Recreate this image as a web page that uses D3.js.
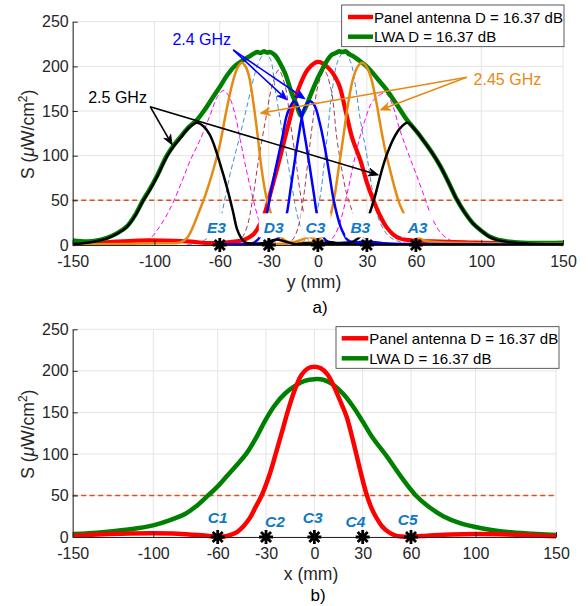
<!DOCTYPE html>
<html>
<head>
<meta charset="utf-8">
<script src="https://cdn.jsdelivr.net/npm/d3@7"></script>
<style>
body { margin: 0; background: #fff; }
svg { display: block; font-family: "Liberation Sans", Arial, sans-serif; }
</style>
</head>
<body>
<svg id="fig" width="588" height="606"></svg>
<script>
// ---- data (position mm, S in uW/cm^2) ----
const xTicks = [-150, -100, -60, -30, 0, 30, 60, 100, 150];
const yTicks = [0, 50, 100, 150, 200, 250];
const limitLine = 50;
const legendNames = ['Panel antenna D = 16.37 dB', 'LWA D = 16.37 dB'];
const markerX = [-60, -30, 0, 30, 60];
const labelsTop = ['E3', 'D3', 'C3', 'B3', 'A3'];
const labelTopX = [-62, -27, -1.5, 26, 61];
const labelsBot = ['C1', 'C2', 'C3', 'C4', 'C5'];
const labelBotX = [-60, -24.5, -1, 25.5, 58];
const labelBotY = [17, 12, 17, 12, 14.5];

// top panel (a): scan along y
const panelTop = [[-150,1],[-130,3],[-110,5],[-95,5],[-80,4],[-65,2],[-55,3],[-45,6],[-40,11],[-37.3,17],[-33,33],[-30.2,50],[-26.5,75],[-23,99],[-18,135],[-12,174],[-6,197],[0,205],[6,199],[12.6,181],[17,150],[21,120],[26,95],[30,70],[34,50],[38,33],[42,20],[46,12],[50,7.5],[58,5],[70,4],[90,3],[110,2],[130,2],[150,1]];
const lwaTop = [[-150,5],[-141,3.8],[-135,5],[-129,8],[-123,13],[-117,20.5],[-112,33],[-107,50],[-103,62],[-98.5,77],[-92.4,100],[-88,112],[-84,121],[-79,132],[-74,140],[-69,152],[-64,166],[-60,177],[-55.5,190],[-51.6,199],[-46.5,206],[-42,211],[-39.4,214],[-37,216],[-35,215],[-33,217],[-31,215.5],[-29,216],[-26,212],[-23,203],[-20,192],[-16,170],[-13,157],[-10.5,145],[-8,152],[-4,170],[0,187],[2.5,196],[5.5,206],[8.5,213],[11,215],[13,217],[15,216],[17,217],[19,214],[22,211],[25,207],[28,203],[32,196],[37,185],[42,174],[48,158],[54.5,140],[60,128],[65,116],[70,103],[75,88],[80,70],[85,51],[90,36],[95,24],[100,16],[105,9.5],[110,6],[116,4],[125,2.5],[135,2.2],[150,2.6]];
const f25L = [[-150,1],[-141,2.5],[-135,4.5],[-129,7.5],[-123,12.5],[-117,20],[-112,32],[-107,49],[-103,61],[-98.5,76],[-92.4,99],[-88,111],[-84,120],[-79,131],[-74,137],[-70,133],[-66,123],[-63.9,114],[-60,92],[-55.7,65],[-52,38],[-49.5,18],[-47,8],[-44.5,3],[-40,1.5],[-33,2],[-26,6],[-20,4],[-14,1],[-8,2],[-2,1.5],[5,1],[15,0.5],[30,0.3],[150,0.3]];
const f25R = [[-10,0.5],[0,1],[8,3],[15,1.5],[22,4],[27,12],[30,25],[32,37],[35,55],[38,76],[41,95],[43.2,106],[46,118],[50,130],[54.8,137],[60,128],[65,116],[70,103],[75,88],[80,70],[85,51],[90,36],[95,24],[100,16],[105,9],[110,5.5],[116,3.5],[125,2],[135,1],[150,0.8]];
const f245L = [[-150,0.5],[-120,1],[-100,2],[-90,2],[-84,3],[-80,8],[-76,22],[-73,36],[-70,50],[-67,66],[-64,84],[-60,112],[-56,150],[-52,183],[-49,199],[-46.5,204],[-44,199],[-42,188],[-39.5,160],[-37,125],[-34.5,86],[-32,58],[-29.5,40],[-27,25],[-24,12],[-20,5],[-15,3],[-10,6],[-5,9],[0,5],[10,2],[150,1]];
const f245R = [[-30,1],[-15,2],[-5,3],[0,5],[3,12],[6,24],[8,35],[10.5,58],[12.6,84],[15.5,120],[18.5,158],[21.5,186],[24.5,200],[27,204],[30,199],[33,184],[36,158],[38.1,136],[41,108],[44.2,84],[47,64],[50,46],[52.4,36],[55,24],[59,12],[65,5],[75,3],[100,2],[150,1]];
const f24L = [[-60,1],[-40,2],[-35,10],[-31.2,35],[-28.5,62],[-26,84],[-22,118],[-18.5,148],[-14.5,161],[-11,150],[-8,122],[-5,88],[-2.5,58],[-0.6,35],[2,15],[5,5],[10,2],[20,3],[30,1],[60,0.5]];
const f24R = [[-60,0.5],[-40,1],[-30,3],[-24,8],[-21.5,18],[-19,35],[-16.5,65],[-13.5,102],[-11.5,125],[-9.8,142],[-7.5,156],[-4.7,161],[-2,156],[1,138],[4,112],[7,80],[9.5,52],[12,32],[14,20],[15.7,13],[18,6],[22,3],[30,4],[40,2],[60,1],[150,0.5]];
const midA_L = [[-80,0.5],[-72,3],[-65,12],[-60,28],[-56.5,55],[-53.6,80],[-48,120],[-43.4,155],[-38,195],[-35,209],[-32,215],[-29,208],[-26,173],[-22.5,135],[-19,99],[-15.5,62],[-12.8,35],[-10,18],[-6,6],[-2,1.5],[5,0.5]];
const midA_R = [[-15,0.5],[-8,5],[-4,18],[-1,35],[1.5,55],[3.5,85],[5.5,118],[8.6,170],[12,205],[16,216],[20,205],[23,178],[26,140],[30,100],[33,65],[36,36],[40,18],[44,9],[48,5],[55,1.5],[70,0.5]];
const midB_L = [[-125,0.5],[-110,2],[-102.6,7.5],[-97,20],[-92,35],[-88,50],[-83,72],[-78,95],[-72,118],[-66,145],[-61.5,166],[-57.7,173],[-54,165],[-50.5,145],[-47.5,118],[-43.5,82],[-39.4,50],[-36.5,30],[-34.3,20],[-30,7],[-25,1.5],[-15,0.5]];
const midB_R = [[0,0.5],[5,2],[10,10],[14,28],[18,58],[22.8,99],[28,135],[34,162],[41,170],[45,160],[50,130],[55,104],[60,80],[65,55],[70,30],[75,14],[80,6.5],[85,3],[95,1],[110,0.5]];
const midC_L = [[-60,0.5],[-52,2],[-47,7],[-43.4,20],[-40,50],[-36.3,95],[-32,140],[-28,178],[-24,196],[-20,178],[-17,140],[-13.5,95],[-10.9,60],[-8,30],[-5,12],[-1,3],[5,0.5]];
const midC_R = [[-25,0.5],[-18,2],[-15,7],[-12,20],[-9,50],[-6,95],[-3,140],[0,178],[4,195],[8,175],[11.6,120],[14.7,84],[17.5,58],[20.8,39],[24,20],[28,8],[33,2],[40,0.5]];

// bottom panel (b): scan along x
const panelBot = [[-150,1.5],[-135,3],[-120,4],[-100,4.5],[-85,4],[-70,2],[-60,0.3],[-56,0.5],[-52,2.5],[-48,6],[-44,13],[-40,23],[-36.5,36],[-32.7,50],[-28,74],[-24,100],[-20,127],[-17,148],[-12,178],[-8,195],[-4,203],[0,205],[4,203],[8,196],[12,182],[16,164],[20,145],[24,116],[28,84],[32,54],[35,37],[38,25],[42,13],[46,6],[50,2],[54,0.5],[60,0.5],[70,1.5],[85,3],[100,3.5],[120,3],[135,2],[150,1]];
const lwaBot = [[-150,3.5],[-140,4.5],[-130,6],[-120,8],[-110,10.5],[-100,14],[-90,20],[-80,28],[-74,36],[-66,50],[-60,61],[-54,74],[-48,87],[-42,101],[-36,120],[-30,142],[-24,160],[-18,173],[-12,182],[-6,188],[0,190],[6,189],[12,183],[18,172],[24,157],[30,139],[36,120],[45,97],[54,72],[63,50],[70,38],[80,25],[90,17],[100,12],[110,8.5],[120,6],[135,4],[150,2.5]];

// annotations
const annoTexts = ['2.4 GHz', '2.45 GHz', '2.5 GHz'];
const annoAt = [[-89, 224], [95.3, 179], [-140.5, 159]];
const annoFrom = [[-51.8, 218.4], [91.1, 187.8], [-102.6, 154.9]];
const annoTo = [[[-18.8, 162.4], [-7.8, 163.5]], [[-35.3, 147.5], [38.1, 151.2]], [[-89.1, 112], [37.1, 78.4]]];

// ---- styles ----
const C = {
  red: '#ff0000', green: '#008000', blue: '#0000ff', black: '#000000',
  orange: '#e58a12', lblue: '#3c8fd6', magenta: '#ff00ff', brown: '#a6374f',
  ref: '#d95319', lab: '#0e79c6', axis: '#262626', grid: '#e4e4e4'
};
const annoColors = [C.blue, C.orange, C.black];

const svg = d3.select('#fig');

function drawAxes(g, x, y, id) {
  const [x0, x1] = x.range();
  const [y0, y1] = y.range();
  g.append('g').selectAll('line').data(xTicks).join('line')
    .attr('x1', d => x(d)).attr('x2', d => x(d)).attr('y1', y0).attr('y2', y1)
    .attr('stroke', C.grid).attr('stroke-width', 1);
  g.append('g').selectAll('line').data(yTicks).join('line')
    .attr('x1', x0).attr('x2', x1).attr('y1', d => y(d)).attr('y2', d => y(d))
    .attr('stroke', C.grid).attr('stroke-width', 1);

  g.append('clipPath').attr('id', id)
    .append('rect').attr('x', x0).attr('y', y1 - 3).attr('width', x1 - x0).attr('height', y0 - y1 + 5);
}

function finishAxes(g, x, y) {
  const ax = g.append('g').attr('transform', `translate(0,${y.range()[0]})`)
    .call(d3.axisBottom(x).tickValues(xTicks).tickSizeInner(-5).tickSizeOuter(0).tickPadding(11));
  const ay = g.append('g').attr('transform', `translate(${x.range()[0]},0)`)
    .call(d3.axisLeft(y).tickValues(yTicks).tickSizeInner(-5).tickSizeOuter(0).tickPadding(4));
  [ax, ay].forEach(a => {
    a.selectAll('text').attr('font-size', 16).attr('fill', C.axis)
      .attr('font-family', '"Liberation Sans", Arial, sans-serif');
    a.selectAll('line').attr('stroke', C.axis);
    a.select('.domain').attr('stroke', C.axis);
  });
  ax.selectAll('text').text(d => d < 0 ? '-' + Math.abs(d) : d);
}

function curve(g, x, y, data, color, width, dash, clip) {
  const line = d3.line().x(d => x(d[0])).y(d => y(d[1])).curve(d3.curveCatmullRom.alpha(0.5));
  g.append('path').datum(data).attr('d', line)
    .attr('fill', 'none').attr('stroke', color).attr('stroke-width', width)
    .attr('stroke-dasharray', dash || null).attr('stroke-linejoin', 'round')
    .attr('clip-path', `url(#${clip})`);
}

function refLine(g, x, y) {
  g.append('line').attr('x1', x(-150)).attr('x2', x(150))
    .attr('y1', y(limitLine)).attr('y2', y(limitLine))
    .attr('stroke', C.ref).attr('stroke-width', 1.5).attr('stroke-dasharray', '5,3.5');
}

function asterisks(g, x, y) {
  const r = 7, q = r * 0.72;
  g.append('g').selectAll('path').data(markerX).join('path')
    .attr('d', d => {
      const cx = x(d), cy = y(0);
      return `M${cx - r},${cy}H${cx + r}M${cx},${cy - r}V${cy + r}` +
        `M${cx - q},${cy - q}L${cx + q},${cy + q}M${cx - q},${cy + q}L${cx + q},${cy - q}`;
    })
    .attr('stroke', '#000').attr('stroke-width', 2.8).attr('fill', 'none');
}

function yLabel(g, y) {
  const cy = (y.range()[0] + y.range()[1]) / 2 + 1;
  const t = g.append('text').attr('transform', `translate(34,${cy}) rotate(-90)`)
    .attr('text-anchor', 'middle').attr('font-size', 17.5).attr('fill', C.axis);
  t.append('tspan').text('S (');
  t.append('tspan').attr('font-style', 'italic').text('\u03bc');
  t.append('tspan').text('W/cm');
  t.append('tspan').attr('font-size', 12).attr('dy', -7).text('2');
  t.append('tspan').attr('dy', 7).text(')');
}

function legend(g, x0, y0, w, h, lineX0, lineX1, rows) {
  g.append('rect').attr('x', x0).attr('y', y0).attr('width', w).attr('height', h)
    .attr('fill', '#fff').attr('stroke', '#333').attr('stroke-width', 0.8);
  const cols = [C.red, C.green];
  legendNames.forEach((n, i) => {
    g.append('line').attr('x1', lineX0).attr('x2', lineX1).attr('y1', rows[i]).attr('y2', rows[i])
      .attr('stroke', cols[i]).attr('stroke-width', 4.5);
    g.append('text').attr('x', lineX1 + 1).attr('y', rows[i] + 5.5)
      .attr('font-size', 15).attr('fill', '#000').text(n);
  });
}

function arrow(g, x1, y1, x2, y2, color) {
  const ang = Math.atan2(y2 - y1, x2 - x1);
  const L = 10, W = 4, N = 7;
  const bx = x2 - L * Math.cos(ang), by = y2 - L * Math.sin(ang);
  const nx = x2 - N * Math.cos(ang), ny = y2 - N * Math.sin(ang);
  const px = -Math.sin(ang) * W, py = Math.cos(ang) * W;
  g.append('line').attr('x1', x1).attr('y1', y1).attr('x2', nx).attr('y2', ny)
    .attr('stroke', color).attr('stroke-width', 1.6);
  g.append('path').attr('d', `M${x2},${y2}L${bx + px},${by + py}L${nx},${ny}L${bx - px},${by - py}Z`)
    .attr('fill', color).attr('stroke', color).attr('stroke-width', 0.8);
}

// ---------------- panel a ----------------
const xA = d3.scaleLinear().domain([-150, 150]).range([72.7, 563]);
const yA = d3.scaleLinear().domain([0, 250]).range([245, 21.7]);
const gA = svg.append('g');
drawAxes(gA, xA, yA, 'clipA');

[[midA_L, C.lblue], [midA_R, C.lblue], [midB_L, C.magenta], [midB_R, C.magenta], [midC_L, C.brown], [midC_R, C.brown]]
  .forEach(([d, c]) => curve(gA, xA, yA, d, c, 1, '5,3', 'clipA'));
refLine(gA, xA, yA);
curve(gA, xA, yA, panelTop, C.red, 4.2, null, 'clipA');
curve(gA, xA, yA, lwaTop, C.green, 4.5, null, 'clipA');
curve(gA, xA, yA, f245L, C.orange, 2.5, null, 'clipA');
curve(gA, xA, yA, f245R, C.orange, 2.5, null, 'clipA');
curve(gA, xA, yA, f24L, C.blue, 2.5, null, 'clipA');
curve(gA, xA, yA, f24R, C.blue, 2.5, null, 'clipA');
curve(gA, xA, yA, f25L, C.black, 2.5, null, 'clipA');
curve(gA, xA, yA, f25R, C.black, 2.5, null, 'clipA');

// point labels with white boxes
labelsTop.forEach((t, i) => {
  const lg = gA.append('g');
  const r = lg.append('rect');
  const tx = lg.append('text').attr('x', xA(labelTopX[i])).attr('y', yA(13.5))
    .attr('text-anchor', 'middle').attr('font-size', 15.5).attr('font-weight', 'bold')
    .attr('font-style', 'italic').attr('fill', C.lab).text(t);
  const bb = tx.node().getBBox();
  r.attr('x', bb.x - 5).attr('y', yA(35.5)).attr('width', bb.width + 10)
    .attr('height', yA(8.5) - yA(35.5)).attr('fill', '#fff');
});

finishAxes(gA, xA, yA);
asterisks(gA, xA, yA);

annoTexts.forEach((t, i) => {
  gA.append('text').attr('x', xA(annoAt[i][0])).attr('y', yA(annoAt[i][1]))
    .attr('font-size', 16).attr('fill', annoColors[i]).text(t);
  annoTo[i].forEach(p => arrow(gA, xA(annoFrom[i][0]), yA(annoFrom[i][1]), xA(p[0]), yA(p[1]), annoColors[i]));
});

yLabel(gA, yA);
gA.append('text').attr('x', 314).attr('y', 288).attr('text-anchor', 'middle')
  .attr('font-size', 17.5).attr('fill', C.axis).text('y (mm)');
gA.append('text').attr('x', 320).attr('y', 313).attr('text-anchor', 'middle')
  .attr('font-size', 17).attr('fill', '#000').text('a)');
legend(gA, 341.7, 5, 222.3, 41.7, 348, 373, [17, 36.7]);

// ---------------- panel b ----------------
const xB = d3.scaleLinear().domain([-150, 150]).range([72.7, 556]);
const yB = d3.scaleLinear().domain([0, 250]).range([537, 329.3]);
const gB = svg.append('g');
drawAxes(gB, xB, yB, 'clipB');
refLine(gB, xB, yB);
curve(gB, xB, yB, lwaBot, C.green, 4.5, null, 'clipB');
curve(gB, xB, yB, panelBot, C.red, 4.5, null, 'clipB');
finishAxes(gB, xB, yB);
asterisks(gB, xB, yB);

labelsBot.forEach((t, i) => {
  gB.append('text').attr('x', xB(labelBotX[i])).attr('y', yB(labelBotY[i]))
    .attr('text-anchor', 'middle').attr('font-size', 15.5).attr('font-weight', 'bold')
    .attr('font-style', 'italic').attr('fill', C.lab).text(t);
});

yLabel(gB, yB);
gB.append('text').attr('x', 311).attr('y', 580).attr('text-anchor', 'middle')
  .attr('font-size', 17.5).attr('fill', C.axis).text('x (mm)');
gB.append('text').attr('x', 318).attr('y', 601).attr('text-anchor', 'middle')
  .attr('font-size', 17).attr('fill', '#000').text('b)');
legend(gB, 336, 326.7, 223, 41.6, 341.7, 368.3, [338.3, 358.3]);
</script>
</body>
</html>
